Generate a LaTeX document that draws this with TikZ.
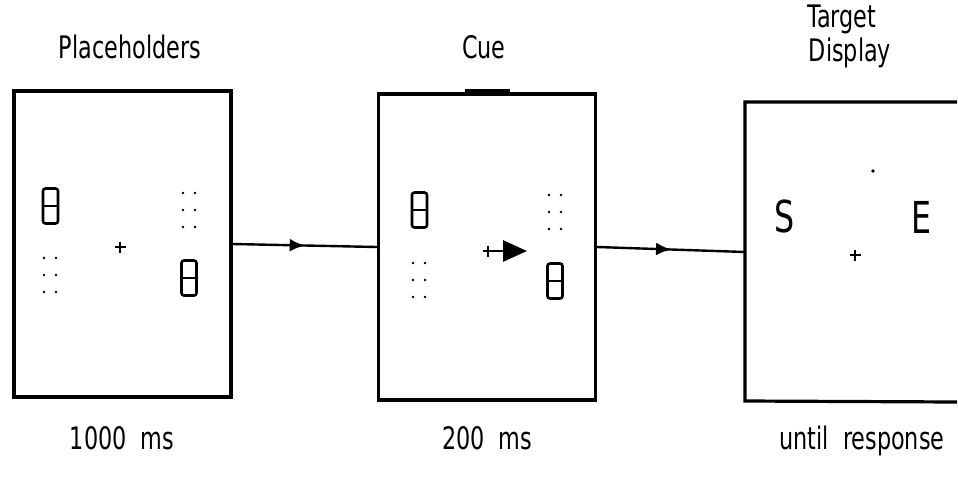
\documentclass[tikz,border=0pt]{standalone}
\usepackage{fontspec}
\setmainfont{DejaVu Sans Condensed}[FakeStretch=0.8]
\usetikzlibrary{arrows.meta,decorations.markings}
\tikzset{
  screen/.style={draw, line width=3.2pt, minimum width=217pt, minimum height=306pt, inner sep=0pt},
  lbl/.style={font=\fontsize{31}{34}\selectfont, inner sep=0pt, anchor=base},
  letter/.style={font=\fontsize{44}{46}\selectfont, inner sep=0pt},
  conn/.style={line width=2.4pt, postaction={decorate},
    decoration={markings, mark=at position 0.5 with {\arrow{Latex[length=15pt,width=13pt]}}}},
  fixcross/.pic={\draw[line width=2.5pt] (-5.5,0)--(5.5,0) (0,-5.5)--(0,5.5);},
  eightfig/.pic={\draw[line width=2.6pt, rounded corners=2.5pt] (-7.5,-17.5) rectangle (7.5,17.5); \draw[line width=2.6pt] (-7.5,0)--(7.5,0);},
  dotsfig/.pic={\foreach \yy in {-17,0,17}{\fill (-6,\yy) circle (1.3pt); \fill (6,\yy) circle (1.3pt);}}
}
\begin{document}
\begin{tikzpicture}[x=1pt,y=-1pt]
\useasboundingbox (0,0) rectangle (958,477);
% screens
\node[screen] (ph) at (122.5,244) {};
\node[screen] (cue) at (487,247) {};
\draw[line width=3.2pt] (957,102) -- (745,102) -- (745,401) -- (957,402);
\coordinate (td) at (745,252);
% cue bar
\draw[line width=4.5pt] (465,91) -- (510,91);
% titles
\node[lbl] (t1) at (130,58) {Placeholders};
\node[lbl] (t2) at (484,58) {Cue};
\node[lbl] (t3a) at (842,27) {Target};
\node[lbl] (t3b) at (850,61) {Display};
% durations
\node[lbl] (d1) at (122,449) {1000\hspace{0.45em}ms};
\node[lbl] (d2) at (487,449) {200\hspace{0.45em}ms};
\node[lbl] (d3) at (862,449) {until\hspace{0.45em}response};
% connectors
\draw[conn] (ph.east) -- (cue.west);
\draw[conn] (cue.east) -- (td);
% placeholder screen
\pic at (50.5,206) {eightfig};
\pic at (50,275) {dotsfig};
\pic at (120,247) {fixcross};
\pic at (189,210) {dotsfig};
\pic at (189,278) {eightfig};
% cue screen
\pic at (419.5,210) {eightfig};
\pic at (419,280) {dotsfig};
\pic at (488,251) {fixcross};
\coordinate (ca) at (494,251);
\coordinate (cb) at (527,251);
\draw[line width=2.8pt, -{Triangle[length=24pt,width=21pt]}] (ca) -- (cb);
\pic at (555,212) {dotsfig};
\pic at (555,281) {eightfig};
% target screen
\node[letter] (s) at (785,216) {S};
\node[letter] (e) at (921,217) {E};
\fill (873,171) circle (1.8pt);
\pic at (855,255) {fixcross};
\end{tikzpicture}
\end{document}
